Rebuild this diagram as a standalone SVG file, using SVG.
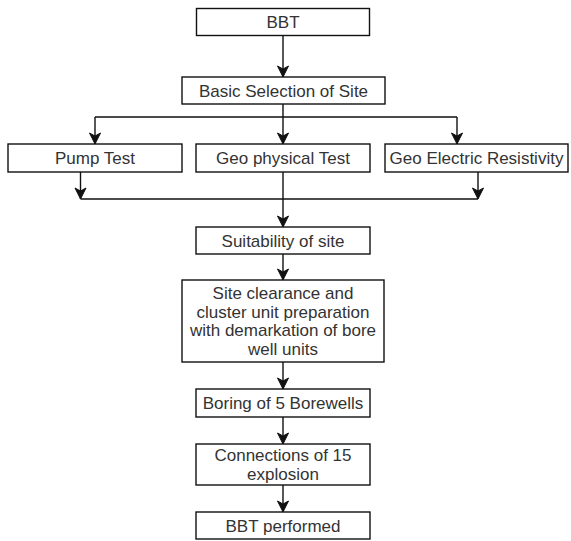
<svg xmlns="http://www.w3.org/2000/svg" width="571" height="541" viewBox="0 0 571 541">
<style>
.box{fill:#fff;stroke:#111;stroke-width:1.4}
.lbl{font-family:"Liberation Sans",Arial,Helvetica,sans-serif;font-size:17px;fill:#333;text-anchor:middle}
.ln{fill:none;stroke:#111;stroke-width:1.4}
</style>
<defs>
<marker id="arr" markerUnits="userSpaceOnUse" markerWidth="14" markerHeight="14" viewBox="-12 -7 14 14" refX="0" refY="0" orient="auto">
<path d="M0,0 L-11,-5.5 L-8,0 L-11,5.5 Z" fill="#111" stroke="#111" stroke-width="1"/>
</marker>
</defs>
<rect width="571" height="541" fill="#fff"/>
<g id="connectors">
<path class="ln" d="M283,35.5 V77" marker-end="url(#arr)"/>
<path class="ln" d="M283,104 V117 M95,117 H457"/>
<path class="ln" d="M95,117 V144" marker-end="url(#arr)"/>
<path class="ln" d="M283,117 V144" marker-end="url(#arr)"/>
<path class="ln" d="M457,117 V144" marker-end="url(#arr)"/>
<path class="ln" d="M80.5,172 V199" marker-end="url(#arr)"/>
<path class="ln" d="M478,172 V199" marker-end="url(#arr)"/>
<path class="ln" d="M80.5,199 H478"/>
<path class="ln" d="M283,172 V227" marker-end="url(#arr)"/>
<path class="ln" d="M283,254 V280" marker-end="url(#arr)"/>
<path class="ln" d="M283,362 V389" marker-end="url(#arr)"/>
<path class="ln" d="M283,417 V444" marker-end="url(#arr)"/>
<path class="ln" d="M283,485 V512" marker-end="url(#arr)"/>
</g>
<g id="bbt">
<rect class="box" x="196.5" y="8.5" width="173" height="27"/>
<text class="lbl" x="283" y="28">BBT</text>
</g>
<g id="basic-selection">
<rect class="box" x="182" y="77" width="203" height="27"/>
<text class="lbl" x="283.5" y="96.5">Basic Selection of Site</text>
</g>
<g id="pump-test">
<rect class="box" x="8" y="144" width="174" height="28"/>
<text class="lbl" x="95" y="164">Pump Test</text>
</g>
<g id="geo-physical">
<rect class="box" x="196" y="144" width="174" height="28"/>
<text class="lbl" x="283" y="164">Geo physical Test</text>
</g>
<g id="geo-electric">
<rect class="box" x="385" y="144" width="183" height="28"/>
<text class="lbl" x="476.5" y="164">Geo Electric Resistivity</text>
</g>
<g id="suitability">
<rect class="box" x="196" y="227" width="174" height="27"/>
<text class="lbl" x="283" y="246.5">Suitability of site</text>
</g>
<g id="site-clearance">
<rect class="box" x="182" y="280" width="202" height="82"/>
<text class="lbl" x="283" y="299">Site clearance and</text>
<text class="lbl" x="283" y="317.7">cluster unit preparation</text>
<text class="lbl" x="283" y="336.4">with demarkation of bore</text>
<text class="lbl" x="283" y="355">well units</text>
</g>
<g id="boring">
<rect class="box" x="196" y="389" width="174" height="28"/>
<text class="lbl" x="283" y="409">Boring of 5 Borewells</text>
</g>
<g id="connections">
<rect class="box" x="196" y="444" width="174" height="41"/>
<text class="lbl" x="283" y="461">Connections of 15</text>
<text class="lbl" x="283" y="479.7">explosion</text>
</g>
<g id="bbt-performed">
<rect class="box" x="196" y="512" width="174" height="27"/>
<text class="lbl" x="283" y="531.5">BBT performed</text>
</g>
</svg>
